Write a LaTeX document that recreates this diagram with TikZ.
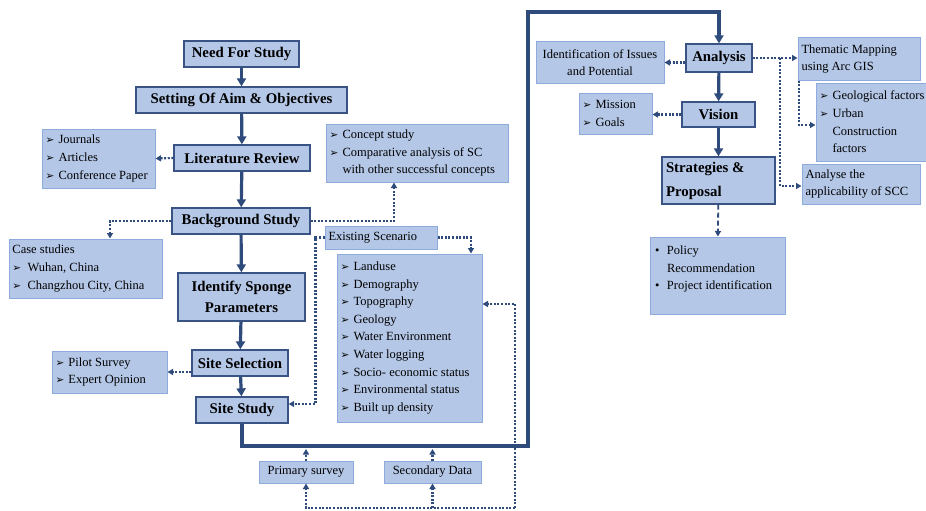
\documentclass[tikz,border=0pt]{standalone}
\usepackage{fontspec}
\setmainfont{Liberation Serif}
\newfontfamily\symfont{DejaVu Sans}
\usetikzlibrary{arrows.meta,calc}
\definecolor{boxfill}{HTML}{B4C7E7}
\definecolor{mainborder}{HTML}{3A5385}
\definecolor{auxborder}{HTML}{8FAADC}
\definecolor{linecol}{HTML}{2F4B7C}
\newcommand\arr{\makebox[13pt][l]{\symfont\bfseries\fontsize{10.5}{10}\selectfont ➢}}
\newcommand\ind{\hspace*{13pt}}
\newcommand\dotb{\makebox[12pt][l]{\textbullet}}
\newcommand\indb{\hspace*{12pt}}
\tikzset{
  mainbox/.style={draw=mainborder, fill=boxfill, line width=1.3pt, inner sep=2pt,
    font=\fontsize{14.8}{21}\selectfont\bfseries, align=center},
  auxbox/.style={draw=auxborder, fill=boxfill, line width=1pt, inner sep=2pt,
    font=\fontsize{12.5}{17.6}\selectfont, align=center},
  leftbox/.style={auxbox, align=flush left, inner xsep=3.5pt},
  flow/.style={draw=linecol, line width=3.2pt, -{Triangle[length=8pt,width=9pt]}},
  dotline/.style={draw=linecol, line width=2.2pt, dash pattern=on 2pt off 1.6pt},
  dotarrow/.style={dotline, -{Triangle[length=5.5pt,width=6pt]}},
  dasharrow/.style={draw=linecol, line width=1.8pt, dash pattern=on 5pt off 3pt, -{Triangle[length=5.5pt,width=6pt]}},
}
\begin{document}
\begin{tikzpicture}[x=1pt,y=-1pt]
\useasboundingbox (0,0) rectangle (926,511);
\clip (0,0) rectangle (926,511);
% main column
\node[mainbox, minimum width=115, minimum height=26] (need) at (241.5,54) {Need For Study};
\node[mainbox, minimum width=211, minimum height=26] (aim) at (241.5,100) {Setting Of Aim \& Objectives};
\node[mainbox, minimum width=136, minimum height=26] (lit) at (242,158) {Literature Review};
\node[mainbox, minimum width=138, minimum height=26] (bg) at (241,221) {Background Study};
\node[mainbox, minimum width=127, minimum height=48] (isp) at (241.5,297) {Identify Sponge\\Parameters};
\node[mainbox, minimum width=96, minimum height=26] (ssel) at (240,363) {Site Selection};
\node[mainbox, minimum width=92, minimum height=26] (sstudy) at (242,410) {Site Study};
% side boxes left
\node[leftbox, text width=106, minimum height=59] (journ) at (98.5,158.5) {\arr Journals\\\arr Articles\\\arr Conference Paper};
\node[leftbox, text width=146, minimum height=59] (case) at (85.5,268.5) {Case studies\\\arr\,Wuhan, China\\\arr\,Changzhou City, China};
\node[leftbox, text width=108, minimum height=42] (pilot) at (109.5,372) {\arr Pilot Survey\\\arr Expert Opinion};
\node[leftbox, text width=175, minimum height=58] (concept) at (417,153) {\arr Concept study\\\arr Comparative analysis of SC\\\ind with other successful concepts};
\node[leftbox, text width=105, minimum height=23] (exist) at (381,237.5) {Existing Scenario};
\node[leftbox, text width=138, minimum height=168] (landuse) at (409.5,338) {\arr Landuse\\\arr Demography\\\arr Topography\\\arr Geology\\\arr Water Environment\\\arr Water logging\\\arr Socio- economic status\\\arr Environmental status\\\arr Built up density};
\node[auxbox, minimum width=94, minimum height=22] (primary) at (306,472) {Primary survey};
\node[auxbox, minimum width=97, minimum height=22] (secondary) at (432.5,472) {Secondary Data};
% right part
\node[mainbox, minimum width=66, minimum height=28] (analysis) at (719,58) {Analysis};
\node[mainbox, minimum width=73, minimum height=25] (vision) at (718.5,114.5) {Vision};
\node[mainbox, align=flush left, inner xsep=4pt, text width=105, minimum height=47, font=\fontsize{14.8}{24}\selectfont\bfseries] (strat) at (718.5,180.5) {Strategies \&\\Proposal};
\node[auxbox, minimum width=128, minimum height=41] (ident) at (600,62.5) {Identification of Issues\\and Potential};
\node[leftbox, text width=115, minimum height=42] (thematic) at (859,59) {Thematic Mapping\\using Arc GIS};
\node[leftbox, text width=66, minimum height=41] (mission) at (615.5,113.5) {\arr Mission\\\arr Goals};
\node[leftbox, text width=111, minimum height=78] (geo) at (875,122) {\arr Geological factors\\\arr Urban\\\ind Construction\\\ind factors};
\node[leftbox, text width=111, minimum height=40] (applic) at (861,184) {Analyse the\\applicability of SCC};
\node[auxbox, minimum width=135, minimum height=77] (policy) at (717.5,275.5) {};
\node[auxbox, draw=none, fill=none, align=flush left, text width=128, anchor=north west, inner sep=0pt] (policytext) at ([xshift=5pt,yshift=-9pt]policy.north west) {\dotb Policy\\\indb Recommendation\\\dotb Project identification};
% coordinates
\coordinate (mA) at (528,446);
\coordinate (mB) at (528,12);
\coordinate (br) at (780,58);
\coordinate (loopR) at (515,508);
% main flow
\draw[flow] (need) -- (aim);
\draw[flow] (aim) -- (lit);
\draw[flow] (lit) -- (bg);
\draw[flow] (bg) -- (isp);
\draw[flow] (isp) -- (ssel);
\draw[flow] (ssel) -- (sstudy);
\draw[flow] (sstudy.south) |- (mA) -- (mB) -| (analysis.north);
\draw[flow] (analysis) -- (vision);
\draw[flow] (vision) -- (strat);
\draw[dasharrow] (strat) -- (policy);
% dotted connectors
\draw[dotarrow] (lit.west) -- (journ.east);
\draw[dotarrow] (bg.west) -| ([xshift=24.5]case.north);
\draw[dotarrow] (bg.east) -| ([xshift=-23]concept.south);
\draw[dotarrow] (ssel.west |- pilot.east) -- (pilot.east);
\draw[dotarrow] (exist.west) -- ++(-9,0) |- ([yshift=6]sstudy.east);
\draw[dotarrow] (exist.east) -| ([xshift=61.5]landuse.north);
\draw[dotarrow] (loopR) |- ([yshift=34]landuse.east);
\draw[dotarrow] (loopR) -| (primary.south);
\draw[dotarrow] (secondary.south |- loopR) -- (secondary.south);
\draw[dotarrow] (primary.north) -- ([yshift=-3]primary.north |- mA);
\draw[dotarrow] (secondary.north) -- ([yshift=-3]secondary.north |- mA);
\draw[dotarrow] (analysis.west |- ident.east) -- (ident.east);
\draw[dotarrow] (analysis.east) -- (analysis.east -| thematic.west);
\draw[dotarrow] (br) |- ([yshift=-2]applic.west);
\draw[dotarrow] ([xshift=-60]thematic.south) |- ([yshift=-3]geo.west);
\draw[dotarrow] (vision.west) -- (vision.west -| mission.east);
\end{tikzpicture}
\end{document}
